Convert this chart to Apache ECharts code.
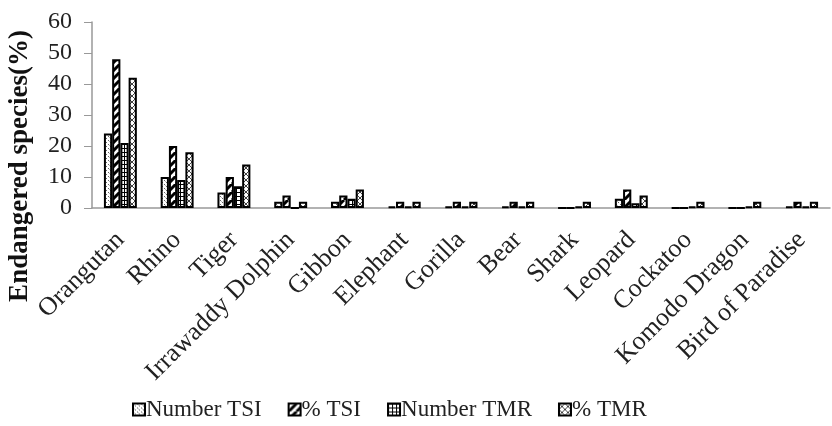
<!DOCTYPE html>
<html>
<head>
<meta charset="utf-8">
<script src="https://cdn.jsdelivr.net/npm/echarts@6/dist/echarts.min.js"></script>
<style>
html, body { margin: 0; padding: 0; background: #fff; }
#chart { width: 832px; height: 426px; }
</style>
</head>
<body>
<div id="chart"></div>
<script>
var categories = ['Orangutan', 'Rhino', 'Tiger', 'Irrawaddy Dolphin', 'Gibbon', 'Elephant', 'Gorilla',
    'Bear', 'Shark', 'Leopard', 'Cockatoo', 'Komodo Dragon', 'Bird of Paradise'];
var seriesNames = ['Number TSI', '% TSI', 'Number TMR', '% TMR'];
var numberTSI = [24, 10, 5, 2, 2, 0.5, 0.5, 0.5, 0, 3, 0, 0, 0.5];
var pctTSI = [48, 20, 10, 4, 4, 2, 2, 2, 0, 6, 0, 0, 2];
var numberTMR = [21, 9, 7, 0, 3, 0.5, 0.5, 0.5, 0.5, 1.5, 0.5, 0.5, 0.5];
var pctTMR = [42, 18, 14, 2, 6, 2, 2, 2, 2, 4, 2, 2, 2];
var yTicks = [0, 10, 20, 30, 40, 50, 60];

var font = '"Liberation Serif", "Times New Roman", serif';

// hatch fills drawn on small canvases
function makePattern(size, draw) {
    var c = document.createElement('canvas');
    c.width = size; c.height = size;
    var ctx = c.getContext('2d');
    ctx.fillStyle = '#fff';
    ctx.fillRect(0, 0, size, size);
    draw(ctx, size);
    return { image: c, repeat: 'repeat' };
}

var dots = makePattern(4, function (ctx) {
    ctx.fillStyle = '#666';
    ctx.fillRect(0, 0, 1, 1);
    ctx.fillRect(2, 2, 1, 1);
    ctx.fillStyle = '#bbb';
    ctx.fillRect(1, 1, 1, 1);
});
var stripes = makePattern(8, function (ctx, s) {
    ctx.strokeStyle = '#000';
    ctx.lineWidth = 3;
    ctx.beginPath();
    for (var k = -1; k <= 1; k++) {
        ctx.moveTo(k * s, s);
        ctx.lineTo(k * s + s, 0);
    }
    ctx.stroke();
});
var grid = makePattern(4, function (ctx) {
    ctx.fillStyle = '#000';
    ctx.fillRect(0, 0, 4, 1);
    ctx.fillRect(0, 0, 1, 4);
});
var cross = makePattern(6, function (ctx, s) {
    ctx.strokeStyle = '#444';
    ctx.lineWidth = 1;
    ctx.beginPath();
    ctx.moveTo(0, 0); ctx.lineTo(s, s);
    ctx.moveTo(s, 0); ctx.lineTo(0, s);
    ctx.stroke();
});

var fills = [dots, stripes, grid, cross];
var values = [numberTSI, pctTSI, numberTMR, pctTMR];

var series = [];
for (var i = 0; i < 4; i++) {
    series.push({
        name: seriesNames[i],
        type: 'bar',
        barGap: '0%',
        barCategoryGap: '42%',
        data: values[i],
        itemStyle: {
            color: fills[i],
            borderColor: '#000',
            borderWidth: 2
        },
        emphasis: { disabled: true }
    });
}

var chart = echarts.init(document.getElementById('chart'));
chart.setOption({
    animation: false,
    grid: { left: 92, right: 2, top: 22, bottom: 218, outerBoundsMode: 'none' },
    graphic: [{
        type: 'text',
        x: 20,
        y: 166,
        rotation: Math.PI / 2,
        style: {
            text: 'Endangered species(%)',
            fontFamily: font,
            fontSize: 27,
            fontWeight: 'bold',
            fill: '#111',
            align: 'center',
            verticalAlign: 'middle'
        }
    }],
    legend: {
        data: seriesNames,
        left: 127,
        bottom: 0,
        icon: 'rect',
        itemWidth: 12,
        itemHeight: 12,
        itemGap: 26,
        textStyle: { fontFamily: font, fontSize: 23, color: '#222', padding: [0, 0, 0, -4] }
    },
    xAxis: {
        type: 'category',
        data: categories,
        axisLine: { lineStyle: { color: '#999', width: 1.5 } },
        axisTick: { show: false },
        axisLabel: {
            rotate: 45,
            interval: 0,
            margin: 28,
            fontFamily: font,
            fontSize: 26,
            color: '#222'
        }
    },
    yAxis: {
        type: 'value',
        min: yTicks[0],
        max: yTicks[yTicks.length - 1],
        interval: 10,
        axisLine: { show: true, lineStyle: { color: '#999', width: 1.5 } },
        axisTick: { show: true, length: 8, inside: false, lineStyle: { color: '#999' } },
        splitLine: { show: false },
        axisLabel: { fontFamily: font, fontSize: 24, color: '#222', margin: 20 }
    },
    series: series
});
</script>
</body>
</html>
